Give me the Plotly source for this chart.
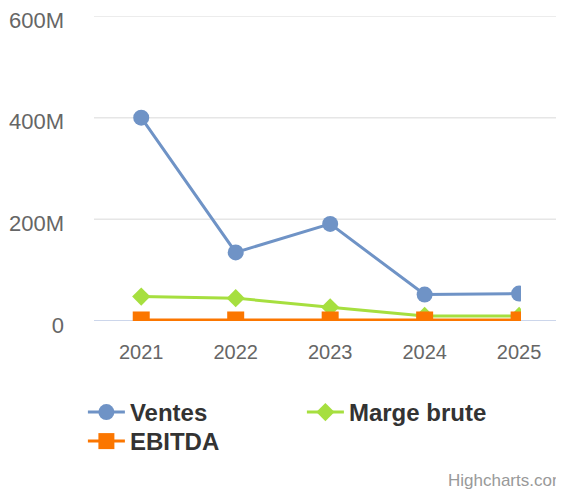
import plotly.graph_objects as go

# ── Data ──────────────────────────────────────────────────────────────────────
YEARS = ["2021", "2022", "2023", "2024", "2025"]
VENTES = [400e6, 135e6, 191e6, 52e6, 54e6]
MARGE_BRUTE = [48e6, 45e6, 27e6, 10e6, 10e6]
EBITDA = [2e6, 2e6, 2e6, 2e6, 2e6]

Y_TICKS = [0, 200e6, 400e6, 600e6]
Y_TICK_LABELS = ["0", "200M", "400M", "600M"]

# ── Style ─────────────────────────────────────────────────────────────────────
BLUE = "#6f93c6"
GREEN = "#a6df3f"
ORANGE = "#fb7600"
GRID = "#e6e6e6"
BASELINE = "#ccd6eb"
TEXT_DARK = "#333333"
TEXT_MUTED = "#666666"
FONT = "Liberation Sans, Arial, sans-serif"

# page body adds an 8px margin, so the figure is 8px smaller than the window
W, H = 556, 483
L, R, T, B = 86, 43, 8, 170
PLOT_W = W - L - R
PLOT_H = H - T - B
X_FULL = (W - L) / PLOT_W  # gridlines reach the right edge, series are clipped


def px_to_paper_y(fig_y):
    return (T + PLOT_H - fig_y) / PLOT_H


fig = go.Figure()

fig.add_trace(go.Scatter(
    x=YEARS, y=VENTES, name="Ventes", mode="lines+markers",
    line=dict(color=BLUE, width=3),
    marker=dict(symbol="circle", size=16, color=BLUE),
    legend="legend",
))
fig.add_trace(go.Scatter(
    x=YEARS, y=MARGE_BRUTE, name="Marge brute", mode="lines+markers",
    line=dict(color=GREEN, width=3),
    marker=dict(symbol="diamond", size=14, color=GREEN),
    legend="legend",
))
fig.add_trace(go.Scatter(
    x=YEARS, y=EBITDA, name="EBITDA", mode="lines+markers",
    line=dict(color=ORANGE, width=3),
    marker=dict(symbol="square", size=17, color=ORANGE),
    legend="legend2",
))

# gridlines + axis line, drawn across the full width
for v in Y_TICKS:
    fig.add_shape(type="line", xref="paper", yref="y",
                  x0=0, x1=X_FULL, y0=v, y1=v,
                  line=dict(color=BASELINE if v == 0 else GRID, width=2 if v == 0 else 1.5),
                  layer="below")

fig.add_annotation(text="Highcharts.com", xref="paper", yref="paper",
                   x=(560 - L) / PLOT_W, y=px_to_paper_y(472),
                   xanchor="right", yanchor="middle",
                   showarrow=False, font=dict(size=17, color="#999999"))

legend_style = dict(
    orientation="h", x=-0.026, xanchor="left", yanchor="top",
    entrywidth=167, entrywidthmode="pixels",
    font=dict(size=24, color=TEXT_DARK, weight="bold"),
    bgcolor="rgba(0,0,0,0)", tracegroupgap=0, itemwidth=37,
)

fig.update_layout(
    width=W, height=H,
    margin=dict(l=L, r=R, t=T, b=B, autoexpand=False),
    paper_bgcolor="white", plot_bgcolor="white",
    font=dict(family=FONT, color=TEXT_DARK),
    showlegend=True,
    legend=dict(y=px_to_paper_y(382), **legend_style),
    legend2=dict(y=px_to_paper_y(411), **legend_style),
)
fig.update_xaxes(
    type="category", range=[-0.5, 4.02], showgrid=False, showline=False,
    zeroline=False, ticks="", ticklabelstandoff=17, automargin=False,
    tickfont=dict(size=20, color=TEXT_MUTED),
)
fig.update_yaxes(
    range=[0, 600e6], tickvals=Y_TICKS, ticktext=Y_TICK_LABELS,
    showgrid=False, zeroline=False, showline=False, ticks="", automargin=False,
    ticklabelstandoff=29, ticklabelshift=4, ticklabeloverflow="allow",
    tickfont=dict(size=22, color=TEXT_MUTED),
)

fig.write_html("out.html")
